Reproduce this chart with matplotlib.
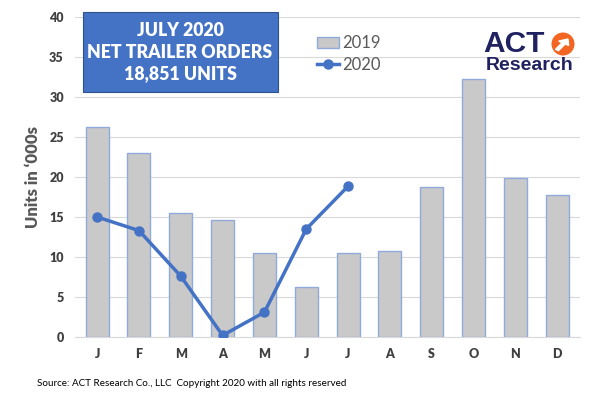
import matplotlib
matplotlib.use("Agg")
import matplotlib.pyplot as plt
from matplotlib.patches import Rectangle, Ellipse, FancyArrow

plt.rcParams["font.family"] = ["Lato", "DejaVu Sans"]

# data (thousands of units)
months = ["J", "F", "M", "A", "M", "J", "J", "A", "S", "O", "N", "D"]
orders_2019 = [26.2, 23.0, 15.5, 14.6, 10.5, 6.3, 10.5, 10.8, 18.7, 32.2, 19.9, 17.7]
orders_2020 = [15.0, 13.3, 7.6, 0.2, 3.1, 13.5, 18.85]

grey_txt = "#595959"
blue = "#4472c4"

fig = plt.figure(figsize=(6, 4), dpi=100)
ax = fig.add_axes([0.125, 0.1575, 0.842, 0.8])

x = list(range(len(months)))
bars = ax.bar(x, orders_2019, width=0.55, color="#c9c9c9", edgecolor="#8faadc",
              linewidth=1, label="2019", zorder=2)
line, = ax.plot(x[:len(orders_2020)], orders_2020, color=blue, linewidth=2.5,
                marker="o", markersize=6.5, label="2020", zorder=3)

ax.set_ylim(0, 40)
ax.set_xlim(-0.53, 11.55)
ax.set_yticks(range(0, 41, 5))
ax.set_xticks(x)
ax.set_xticklabels(months)
ax.grid(axis="y", color="#d9d9d9", linewidth=0.8, zorder=0)
for s in ["top", "right", "left"]:
    ax.spines[s].set_visible(False)
ax.spines["bottom"].set_color("#d9d9d9")
ax.tick_params(length=0, colors="#404040", labelsize=9, pad=8)
for lbl in ax.get_xticklabels() + ax.get_yticklabels():
    lbl.set_fontweight("heavy")
ax.set_ylabel("Units in \u2018000s", fontsize=12, fontweight="heavy",
              color=grey_txt, labelpad=6)

leg = ax.legend([bars, line], ["2019", "2020"], loc="upper left",
                bbox_to_anchor=(0.45, 0.99), frameon=False,
                fontsize=12, handlelength=1.3, handletextpad=0.2,
                labelspacing=0.35)
for t in leg.get_texts():
    t.set_color(grey_txt)

# title box
fig.patches.append(Rectangle((83 / 600, 1 - 92 / 400), 195 / 600, 80 / 400,
                             transform=fig.transFigure, facecolor=blue,
                             edgecolor="#2f528f", linewidth=0.8, zorder=5))
fig.text(180 / 600, 1 - 52 / 400, "JULY 2020\nNET TRAILER ORDERS\n18,851 UNITS",
         ha="center", va="center", color="white", fontsize=12.7,
         fontweight="heavy", linespacing=1.3, zorder=6)

# logo
fig.text(483 / 600, 1 - 44 / 400, "ACT", fontsize=21.5, fontweight="bold",
         family="Liberation Sans", color="#1f2161", ha="left", va="center",
         zorder=6)
fig.patches.append(Ellipse((563 / 600, 1 - 44 / 400), 23 / 600, 23 / 400,
                           transform=fig.transFigure,
                           facecolor="#f26522", edgecolor="none", zorder=5))
fig.patches.append(FancyArrow(557 / 600, 1 - 50 / 400, 11 / 600, 11 / 400,
                              width=0.006, head_width=0.02, head_length=0.013,
                              length_includes_head=True,
                              transform=fig.transFigure, color="white", zorder=6))
fig.text(530 / 600, 1 - 65 / 400, "Research", fontsize=14, fontweight="bold",
         family="Liberation Sans", color="#1f2161", ha="center", va="center",
         zorder=6)

fig.text(37 / 600, 1 - 384 / 400,
         "Source: ACT Research Co., LLC  Copyright 2020 with all rights reserved",
         fontsize=7.1, color="black", ha="left", va="center")

fig.savefig("out.png", dpi=100, facecolor="white")
